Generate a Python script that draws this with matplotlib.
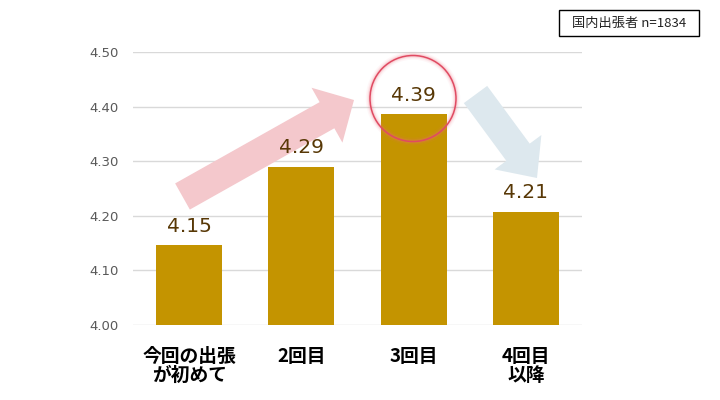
import matplotlib
matplotlib.use("Agg")
import matplotlib.pyplot as plt
from matplotlib.patches import FancyArrow, Circle, Rectangle

categories = ["今回の出張\nが初めて", "2回目", "3回目", "4回目\n以降"]
values = [4.146, 4.290, 4.386, 4.207]
labels = ["4.15", "4.29", "4.39", "4.21"]
yticks = [4.00, 4.10, 4.20, 4.30, 4.40, 4.50]
note = "国内出張者 n=1834"

BAR = "#C49400"
VAL = "#583806"

plt.rcParams['font.family'] = ['DejaVu Sans', 'Noto Sans CJK JP']

fig = plt.figure(figsize=(7.2, 4.0), dpi=100)
ax = fig.add_axes([133/720, 1-325/400, 449/720, 273/400])

x = list(range(len(categories)))
ax.bar(x, values, width=0.59, color=BAR, zorder=2)
for xi, v, lab in zip(x, values, labels):
    ax.annotate(lab, (xi, v), xytext=(0, 7), textcoords="offset points",
                ha="center", va="bottom", fontsize=14.5, color=VAL, zorder=5)

ax.set_xlim(-0.5, 3.5)
ax.set_ylim(4.0, 4.5)
ax.set_yticks(yticks)
ax.set_yticklabels([f"{t:.2f}" for t in yticks], fontsize=9.5, color="#595959")
ax.set_xticks(x)
ax.set_xticklabels(categories, fontsize=13.5, fontweight="bold", color="black",
                   family=['Noto Sans CJK JP'], linespacing=1.0, va="top")
ax.tick_params(axis="x", length=0, pad=16)
ax.tick_params(axis="y", length=0, pad=10)
for s in ax.spines.values():
    s.set_visible(False)
ax.set_axisbelow(True)
ax.yaxis.grid(True, color="#d9d9d9", linewidth=1.0, zorder=0)

tr = fig.dpi_scale_trans
# pink rising arrow
ax.add_patch(FancyArrow(1.825, 2.035, 1.715, 0.965, width=0.30, head_width=0.63,
                        head_length=0.31, length_includes_head=True,
                        color="#f4c8cc", lw=0, transform=tr, clip_on=False, zorder=1.5))
# light blue falling arrow
ax.add_patch(FancyArrow(4.755, 3.055, 0.615, -0.835, width=0.29, head_width=0.58,
                        head_length=0.32, length_includes_head=True,
                        color="#dde8ee", lw=0, transform=tr, clip_on=False, zorder=1.5))
# circle with glow
for lw, a in [(6, 0.06), (4, 0.10), (2.5, 0.18)]:
    ax.add_patch(Circle((4.13, 3.015), 0.43, fill=False, edgecolor="#f07080",
                        lw=lw, alpha=a, transform=tr, clip_on=False, zorder=4))
ax.add_patch(Circle((4.13, 3.015), 0.43, fill=False, edgecolor="#e04a62",
                    lw=1.1, transform=tr, clip_on=False, zorder=4))

# note box
fig.add_artist(Rectangle((559/720, 1-36/400), 140/720, 26/400, fill=False,
                         edgecolor="black", lw=1.0, transform=fig.transFigure))
fig.text(629/720, 1-23/400, note, ha="center", va="center", fontsize=9.5,
         color="#222222", family=['Noto Sans CJK JP', 'DejaVu Sans'])

fig.savefig("out.png", dpi=100)
